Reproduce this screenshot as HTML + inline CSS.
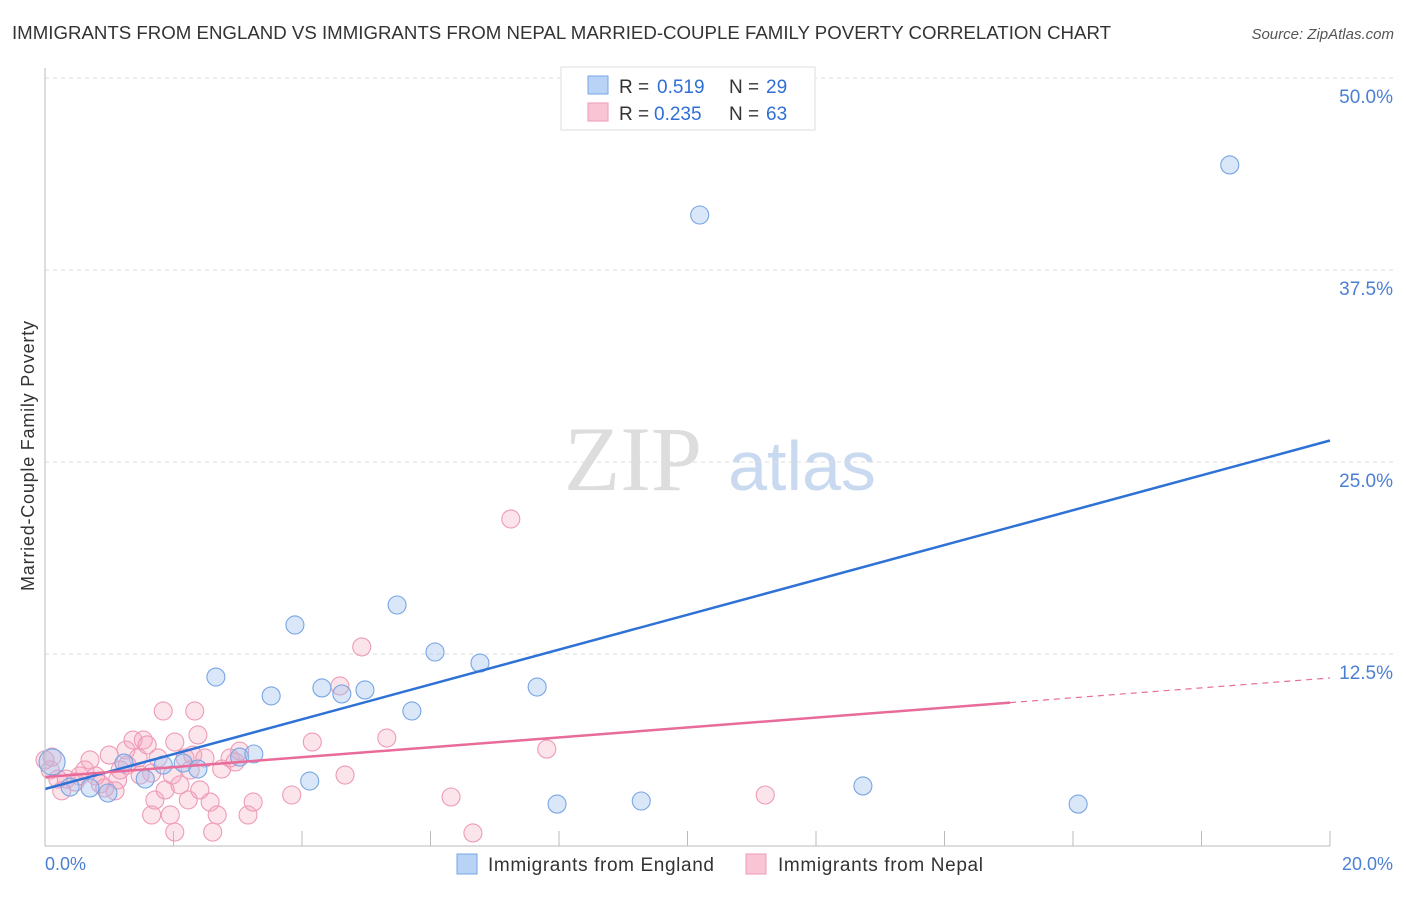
<!DOCTYPE html>
<html><head><meta charset="utf-8"><style>
body{margin:0;background:#fff;font-family:"Liberation Sans",sans-serif}
</style></head><body>
<svg id="c" width="1406" height="892" xmlns="http://www.w3.org/2000/svg">
<text x="12" y="39" font-size="18" fill="#333" textLength="1099" lengthAdjust="spacingAndGlyphs">IMMIGRANTS FROM ENGLAND VS IMMIGRANTS FROM NEPAL MARRIED-COUPLE FAMILY POVERTY CORRELATION CHART</text>
<text x="1394" y="39" font-size="15" fill="#555" font-style="italic" text-anchor="end">Source: ZipAtlas.com</text>
<text transform="translate(34,456) rotate(-90)" font-size="18" fill="#333" text-anchor="middle" textLength="270">Married-Couple Family Poverty</text>
<g><text x="633" y="490" font-size="92" fill="#ddd" font-family="Liberation Serif,serif" text-anchor="middle">ZIP</text><text x="802" y="490" font-size="70" fill="#c9daf0" text-anchor="middle">atlas</text></g>
<g id="grid"></g><g id="pts"></g><g id="lines"></g>
<line x1="45" y1="68" x2="45" y2="846" stroke="#bbb"/>
<line x1="45" y1="846" x2="1330" y2="846" stroke="#bbb"/>
<text x="45" y="870" font-size="18" fill="#4a7fd4">0.0%</text>
<text x="1393" y="870" font-size="18" fill="#4a7fd4" text-anchor="end">20.0%</text>
<g>
<rect x="561" y="67" width="254" height="63" fill="#fff" stroke="#ddd"/>
<rect x="588" y="76" width="20" height="18" fill="#b8d3f5" stroke="#7aa6e6"/>
<text x="619" y="93" font-size="19" fill="#333">R =</text><text x="657" y="93" font-size="19" fill="#2f6fd6">0.519</text>
<text x="729" y="93" font-size="19" fill="#333">N =</text><text x="766" y="93" font-size="19" fill="#2f6fd6">29</text>
<rect x="588" y="103" width="20" height="18" fill="#f9c5d5" stroke="#ee9ab5"/>
<text x="619" y="120" font-size="19" fill="#333">R =</text><text x="654" y="120" font-size="19" fill="#2f6fd6">0.235</text>
<text x="729" y="120" font-size="19" fill="#333">N =</text><text x="766" y="120" font-size="19" fill="#2f6fd6">63</text>
</g>
<g>
<rect x="457" y="854" width="20" height="20" fill="#b8d3f5" stroke="#7aa6e6"/>
<text x="488" y="871" font-size="19" fill="#333" textLength="226">Immigrants from England</text>
<rect x="746" y="854" width="20" height="20" fill="#f9c5d5" stroke="#ee9ab5"/>
<text x="778" y="871" font-size="19" fill="#333" textLength="205">Immigrants from Nepal</text>
</g>
</svg>
<script>
const yTicks=[12.5,25,37.5,50];
const yTickLabels=["12.5%","25.0%","37.5%","50.0%"];
const xTicks=[2,4,6,8,10,12,14,16,18,20];
const englandX=[0.11,0.39,0.70,0.98,1.23,1.56,1.84,2.15,2.38,2.66,3.03,3.25,3.52,3.89,4.12,4.31,4.62,4.98,5.48,5.71,6.07,6.77,7.66,7.97,9.28,10.19,12.73,16.08,18.44];
const englandY=[5.47,3.84,3.78,3.45,5.40,4.36,5.27,5.40,5.01,11.0,5.79,5.99,9.77,14.39,4.23,10.29,9.90,10.16,15.69,8.79,12.63,11.91,10.35,2.73,2.93,41.08,3.91,2.73,44.34];
const nepalX=[0.11,0.08,0.20,0.33,0.47,0.54,0.62,0.70,0.79,0.86,0.93,1.00,1.13,1.17,1.26,1.28,1.37,1.45,1.53,1.59,1.66,1.71,1.66,1.76,1.84,1.87,1.95,1.98,2.02,2.10,2.18,2.23,2.26,2.30,2.33,2.38,2.49,2.57,2.61,2.68,2.75,2.88,3.03,3.16,3.24,3.84,4.16,4.59,4.67,4.93,5.32,6.32,6.66,7.25,7.81,11.21,0.26,0.00,1.48,2.96,1.09,2.02,2.41];
const nepalY=[5.79,4.95,4.36,4.36,4.17,4.56,4.95,5.60,4.56,4.04,3.78,5.92,4.30,4.95,6.25,5.27,6.90,5.73,6.90,6.58,4.75,2.99,2.02,5.73,8.79,3.65,2.02,4.62,0.91,3.98,5.73,3.0,4.95,5.92,8.79,7.23,5.73,2.86,0.91,2.02,5.01,5.73,6.18,2.02,2.86,3.32,6.77,10.42,4.62,12.96,7.03,3.19,0.85,21.29,6.31,3.32,3.59,5.60,4.62,5.47,3.59,6.77,3.65];
const englandSizes=[13];
const lineEngland=[3.71,26.4];
const lineNepal=[4.49,10.94];
const nepalSolidEnd=15.02;
const NS="http://www.w3.org/2000/svg";
const sx=v=>45+v/20*1285, sy=v=>846-v/12.5*192;
function mk(t,a,p){const e=document.createElementNS(NS,t);for(const k in a)e.setAttribute(k,a[k]);p.appendChild(e);return e;}
const grid=document.getElementById('grid');
yTicks.forEach((t,i)=>{
 const g=mk('line',{x1:45,x2:1393,y1:sy(t),y2:sy(t),stroke:'#ddd','stroke-dasharray':'4,4'},grid);
 
 
 const l=mk('text',{x:1393,y:sy(t)+25,'font-size':19,fill:'#4a7fd4','text-anchor':'end'},grid);
 l.textContent=yTickLabels[i];
 
 
});
xTicks.forEach(t=>{
 const k=mk('line',{x1:sx(t),x2:sx(t),y1:831,y2:846,stroke:'#bbb'},grid);
 
 
});
const pts=document.getElementById('pts');
nepalX.forEach((x,i)=>{
 const c=mk('circle',{cx:sx(x),cy:sy(nepalY[i]),r:9,fill:'rgba(245,165,190,0.3)',stroke:'#ee9ab8','stroke-width':1.1},pts);
 
 
});
englandX.forEach((x,i)=>{
 const c=mk('circle',{cx:sx(x),cy:sy(englandY[i]),r:englandSizes[i]||9,fill:'rgba(160,196,240,0.4)',stroke:'#78a5e3','stroke-width':1.1},pts);
 
 
});
const ln=document.getElementById('lines');
const b=mk('line',{x1:sx(0),y1:sy(lineEngland[0]),x2:sx(20),y2:sy(lineEngland[1]),stroke:'#2f72d6','stroke-width':2.5},ln);


const ym=lineNepal[0]+(lineNepal[1]-lineNepal[0])*nepalSolidEnd/20;
const p1=mk('line',{x1:sx(0),y1:sy(lineNepal[0]),x2:sx(nepalSolidEnd),y2:sy(ym),stroke:'#e86b99','stroke-width':2.5},ln);


const p2=mk('line',{x1:sx(nepalSolidEnd),y1:sy(ym),x2:sx(20),y2:sy(lineNepal[1]),stroke:'#e86b99','stroke-width':1.2,'stroke-dasharray':'6,5'},ln);


</script>
</body></html>
